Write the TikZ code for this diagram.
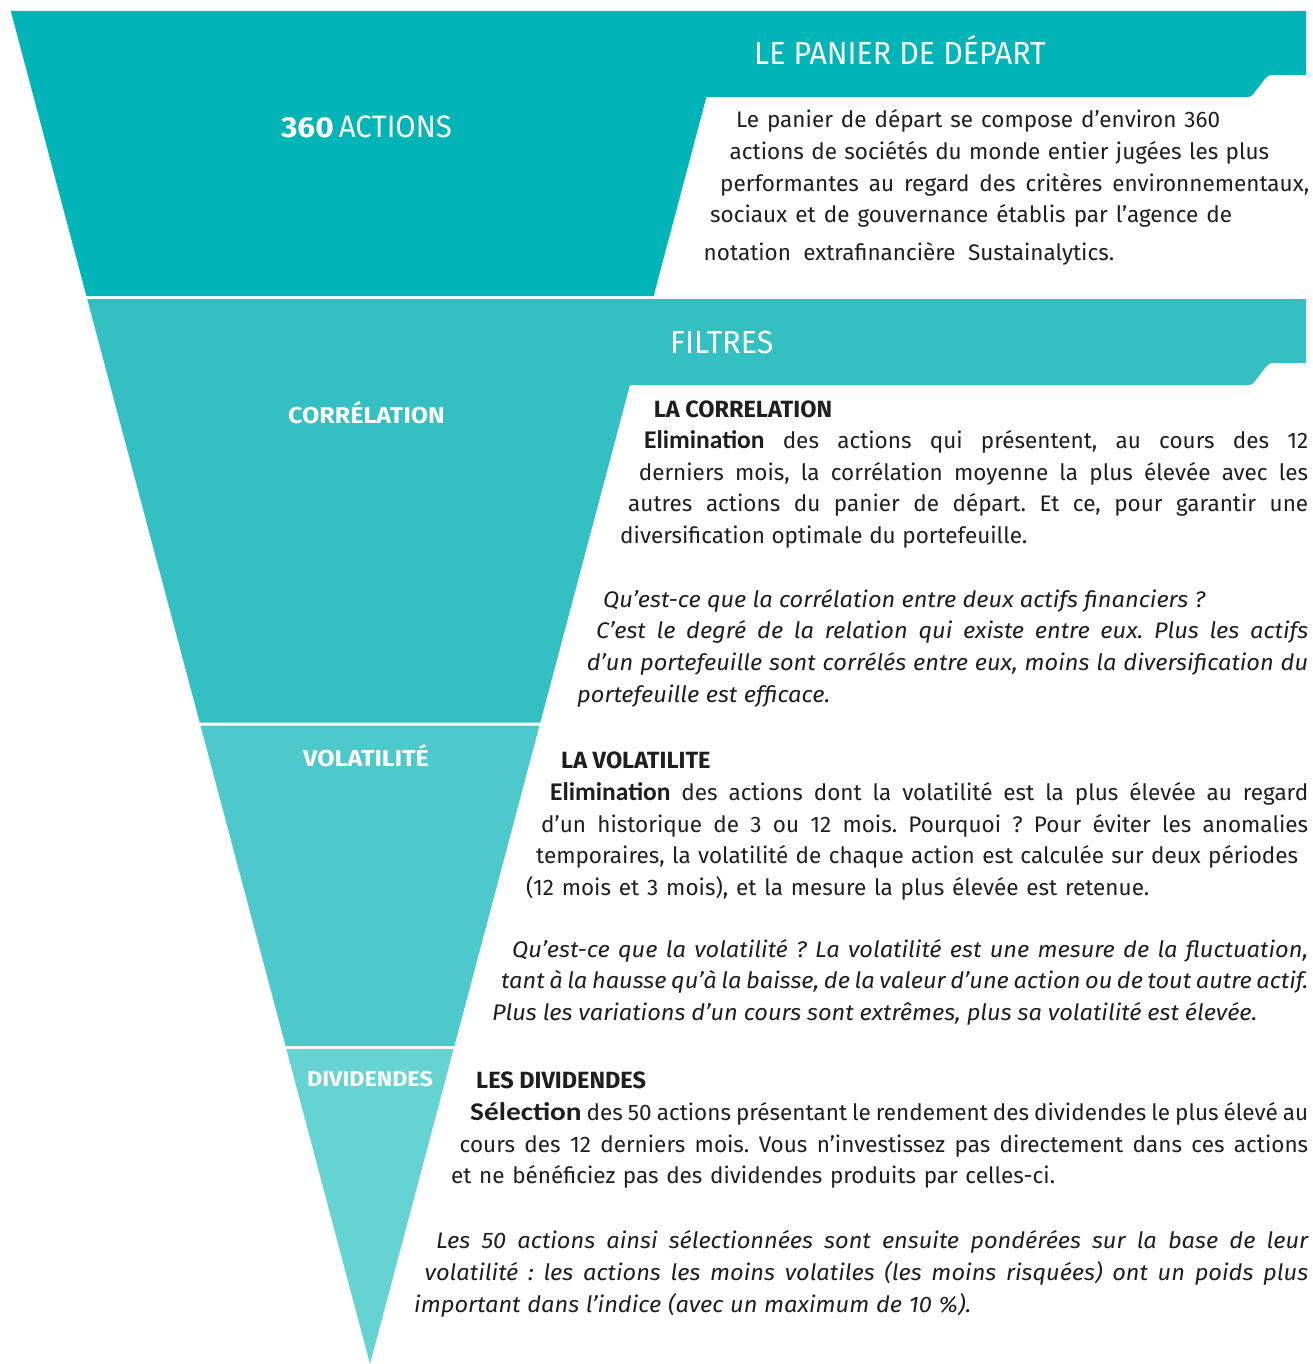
\documentclass[tikz,border=0pt]{standalone}
\usepackage{fontspec}
\setmainfont{Fira Sans}[FakeStretch=1.0]
\newfontfamily\itf{Fira Sans}[FakeStretch=1.05]
\newfontfamily\hfont{Fira Sans}[FakeStretch=0.95]
\newfontfamily\semib{Carlito}
\newfontfamily\semibw{Carlito}[FakeStretch=1.15]
\newfontfamily\lfont{Fira Sans}[FakeStretch=1.09]
\definecolor{cA}{HTML}{00B4B8}
\definecolor{cB}{HTML}{34BFC2}
\definecolor{cC}{HTML}{4DC9CB}
\definecolor{cD}{HTML}{66D3D3}
\definecolor{ink}{HTML}{1E1E1E}
\definecolor{inkb}{HTML}{1F1F1F}
\frenchspacing
\ExplSyntaxOn
\cs_new_protected:Npn \spcline #1
  {
    \seq_set_split:Nnn \l_tmpa_seq {~} {#1}
    \int_zero:N \l_tmpa_int
    \seq_map_inline:Nn \l_tmpa_seq
      {
        \int_compare:nNnT \l_tmpa_int > 0 { \c_space_tl }
        \int_incr:N \l_tmpa_int
        \int_if_odd:nTF \l_tmpa_int { \color{ink} } { \color{inkb} }
        ##1
      }
  }
\ExplSyntaxOff
\tikzset{
  txt/.style={anchor=base west, inner sep=0pt, text=ink, font=\fontsize{22.5}{26}\selectfont},
  subhead/.style={anchor=base west, inner sep=0pt, text=ink, font=\fontsize{23.5}{26}\selectfont\bfseries},
  banner/.style={anchor=base west, inner sep=0pt, text=white, font=\hfont\fontsize{32}{36}\selectfont},
  tlabel/.style={anchor=base, inner sep=0pt, text=white, font=\lfont\fontsize{23}{26}\selectfont\bfseries},
}
\newcommand\tline[5]{\pgfmathsetlengthmacro\tlw{#4-#2}\node[txt] (#1) at (#2,#3) {\hbox to \tlw{\spcline{#5}}};}
\newcommand\semb[1]{{\semib\fontsize{25.5}{28}\selectfont\bfseries #1}}
\newcommand\sembw[1]{{\semibw\fontsize{25.5}{28}\selectfont\bfseries #1}}
\newcommand\itl{\itf\itshape}
\begin{document}
\begin{tikzpicture}[x=1pt,y=-1pt]
\useasboundingbox (0,0) rectangle (1313,1364);
% band 1 with banner
\fill[cA] (10.8,11) -- (1306,11) -- (1306,75) -- (1273,75)
  .. controls (1268,75) and (1266,77) .. (1264,80) -- (1254,93)
  .. controls (1252,96) and (1250,97) .. (1246,97)
  -- (706.4,97) -- (653.6,296) -- (86.4,296) -- cycle;
% band 2 with banner
\fill[cB] (87.2,299) -- (1306,299) -- (1306,363) -- (1274,363)
  .. controls (1269,363) and (1267,365) .. (1265,368) -- (1255,381)
  .. controls (1253,384) and (1251,385) .. (1247,385)
  -- (629.9,385) -- (540.3,722.5) -- (199.7,722.5) -- cycle;
% band 3
\fill[cC] (200.5,725.5) -- (539.5,725.5) -- (454.4,1046) -- (285.6,1046) -- cycle;
% band 4
\fill[cD] (286.4,1049) -- (453.6,1049) -- (370,1364) -- cycle;

% banner titles
\node[banner] (t1) at (754,65) {LE PANIER DE DÉPART};
\node[banner] (t2) at (670,353) {FILTRES};

% triangle labels
\node[anchor=base, inner sep=0pt, text=white] (n360) at (366.5,138)
  {{\lfont\fontsize{29}{34}\selectfont\bfseries 360}\hspace{5pt}{\hfont\fontsize{31}{34}\selectfont ACTIONS}};
\node[tlabel] (lcor) at (366.5,423) {CORRÉLATION};
\node[tlabel] (lvol) at (366,766) {VOLATILITÉ};
\node[tlabel, font=\lfont\fontsize{21.4}{24}\selectfont\bfseries] (ldiv) at (370,1086) {DIVIDENDES};

% panier paragraph
\tline{p1}{736}{128}{1220}{Le panier de départ se compose d’environ 360}
\tline{p2}{729.5}{160}{1269}{actions de sociétés du monde entier jugées les plus}
\tline{p3}{720}{192}{1309}{performantes au regard des critères environnementaux,}
\tline{p4}{710}{223}{1232}{sociaux et de gouvernance établis par l’agence de}
\tline{p5}{703.5}{260}{1114}{notation extrafinancière Sustainalytics.}

% correlation
\node[subhead] (hcor) at (653.6,417) {\spcline{LA CORRELATION}};
\tline{c1}{644}{448}{1308}{\semb{Elimination} des actions qui présentent, au cours des 12}
\tline{c2}{638.6}{480}{1308}{derniers mois, la corrélation moyenne la plus élevée avec les}
\tline{c3}{628}{511}{1308}{autres actions du panier de départ. Et ce, pour garantir une}
\tline{c4}{620}{543}{1027}{diversification optimale du portefeuille.}
\tline{q1}{603}{607}{1205}{\itl Qu’est-ce que la corrélation entre deux actifs financiers ?}
\tline{q2}{596}{638}{1308}{\itl C’est le degré de la relation qui existe entre eux. Plus les actifs}
\tline{q3}{586.6}{670}{1308}{\itl d’un portefeuille sont corrélés entre eux, moins la diversification du}
\tline{q4}{577}{702}{830}{\itl portefeuille est efficace.}

% volatilite
\node[subhead] (hvol) at (561,768) {\spcline{LA VOLATILITE}};
\tline{v1}{550}{800}{1308}{\semb{Elimination} des actions dont la volatilité est la plus élevée au regard}
\tline{v2}{541}{832}{1308}{d’un historique de 3 ou 12 mois. Pourquoi ? Pour éviter les anomalies}
\tline{v3}{536}{863}{1298}{temporaires, la volatilité de chaque action est calculée sur deux périodes}
\tline{v4}{526}{895}{1149}{(12 mois et 3 mois), et la mesure la plus élevée est retenue.}
\tline{w1}{512}{957}{1308}{\itl Qu’est-ce que la volatilité ? La volatilité est une mesure de la fluctuation,}
\tline{w2}{501}{988}{1308}{\itl tant à la hausse qu’à la baisse, de la valeur d’une action ou de tout autre actif.}
\tline{w3}{492}{1020}{1257}{\itl Plus les variations d’un cours sont extrêmes, plus sa volatilité est élevée.}

% dividendes
\node[subhead] (hdiv) at (476,1088) {\spcline{LES DIVIDENDES}};
\tline{d1}{470}{1120}{1308}{\sembw{Sélection} des 50 actions présentant le rendement des dividendes le plus élevé au}
\tline{d2}{459.5}{1152}{1308}{cours des 12 derniers mois. Vous n’investissez pas directement dans ces actions}
\tline{d3}{451}{1183}{1055}{et ne bénéficiez pas des dividendes produits par celles-ci.}
\tline{e1}{436}{1248}{1308}{\itl Les 50 actions ainsi sélectionnées sont ensuite pondérées sur la base de leur}
\tline{e2}{424.5}{1280}{1308}{\itl volatilité : les actions les moins volatiles (les moins risquées) ont un poids plus}
\tline{e3}{414}{1312}{971}{\itl important dans l’indice (avec un maximum de 10 \%).}
\end{tikzpicture}
\end{document}
